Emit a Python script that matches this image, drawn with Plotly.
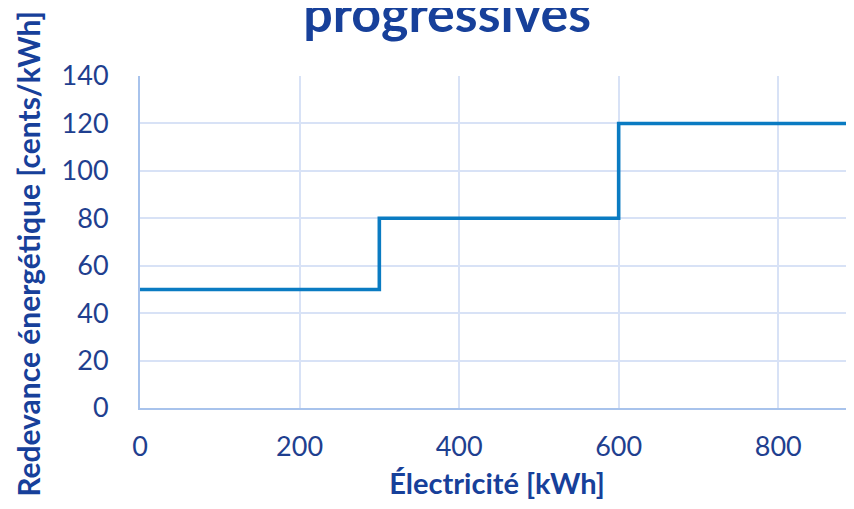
import plotly.graph_objects as go

electricity_kwh = [0, 300, 600, 900]
fee_cents = [50, 80, 120, 120]
x_ticks = [0, 200, 400, 600, 800]
y_ticks = [0, 20, 40, 60, 80, 100, 120, 140]

text_col = "#1F3F8F"
title_col = "#17409A"
grid_col = "#D8E2F6"
axis_col = "#A8C3EC"
line_col = "#0A7BC2"
font_fam = "Lato, 'Open Sans', sans-serif"

fig = go.Figure()
fig.add_trace(go.Scatter(
    x=electricity_kwh, y=fee_cents, mode="lines", line_shape="hv",
    line=dict(color=line_col, width=3.6), showlegend=False, hoverinfo="x+y",
))

# page body has an 8px margin, so the figure is 846x501 placed at (8, 8)
fig.update_layout(
    width=846, height=501,
    margin=dict(l=132, r=0, t=68, b=101, autoexpand=False),
    paper_bgcolor="white", plot_bgcolor="white",
    font=dict(family=font_fam, color=text_col, size=27),
    title=dict(text="<b>progressives</b>", x=0.519, xanchor="center",
               y=0.988, yanchor="middle", yref="container", pad=dict(t=0, b=0),
               font=dict(family=font_fam, size=52, color=title_col)),
)

fig.update_xaxes(
    range=[0, 895], tickvals=x_ticks, ticks="", ticklabelstandoff=14,
    showgrid=True, gridcolor=grid_col, gridwidth=2, automargin=False,
    showline=True, linecolor=axis_col, linewidth=2, zeroline=False,
    title=dict(text="<b>Électricité [kWh]</b>", font=dict(size=29, color=title_col), standoff=12),
)
fig.update_yaxes(
    range=[0, 140], tickvals=y_ticks, ticks="", ticklabelstandoff=24,
    showgrid=True, gridcolor=grid_col, gridwidth=2, automargin=False,
    showline=True, linecolor=axis_col, linewidth=2, zeroline=False,
)

fig.add_annotation(
    text="<b>Redevance énergétique [cents/kWh]</b>", textangle=-90,
    xref="paper", yref="paper", x=-0.157, y=0.464,
    xanchor="center", yanchor="middle", showarrow=False,
    font=dict(size=30, color=title_col, family=font_fam),
)

fig.write_html("out.html")
